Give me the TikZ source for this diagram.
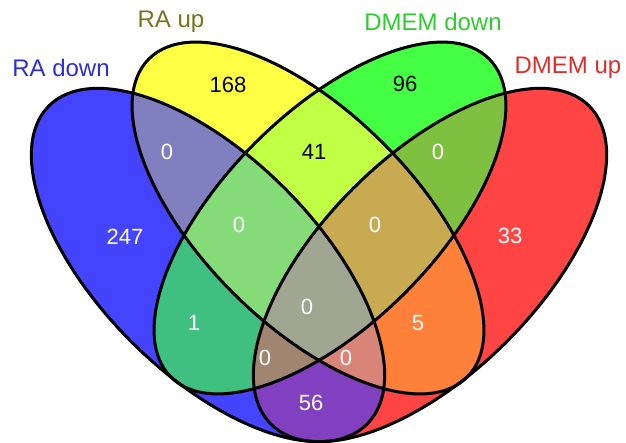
\documentclass[tikz,border=0pt]{standalone}
\usepackage{fontspec}
\setmainfont{Liberation Sans}
\definecolor{cA}{HTML}{4444FF}
\definecolor{cB}{HTML}{FFFF44}
\definecolor{cC}{HTML}{44FF44}
\definecolor{cD}{HTML}{FF4444}
\definecolor{cAB}{HTML}{8080C0}
\definecolor{cAC}{HTML}{40C080}
\definecolor{cAD}{HTML}{8040C0}
\definecolor{cBC}{HTML}{C0FF44}
\definecolor{cBD}{HTML}{FF8038}
\definecolor{cCD}{HTML}{80C040}
\definecolor{cABC}{HTML}{84DB78}
\definecolor{cABD}{HTML}{D88478}
\definecolor{cACD}{HTML}{A08570}
\definecolor{cBCD}{HTML}{C8AA50}
\definecolor{cABCD}{HTML}{A0A692}
\definecolor{tA}{HTML}{2E2EDD}
\definecolor{tB}{HTML}{75751E}
\definecolor{tC}{HTML}{2ECC2E}
\definecolor{tD}{HTML}{DD2E2E}
% ellipse paths (canvas coordinates, y up; image y -> -y)
\newcommand\pA{\pgfpathellipse{\pgfpoint{208pt}{-265pt}}{\pgfpoint{159.1pt}{-159.1pt}}{\pgfpoint{76.7pt}{76.7pt}}}
\newcommand\pB{\pgfpathellipse{\pgfpoint{308pt}{-218pt}}{\pgfpoint{159.1pt}{-159.1pt}}{\pgfpoint{74.95pt}{74.95pt}}}
\newcommand\pC{\pgfpathellipse{\pgfpoint{330pt}{-218pt}}{\pgfpoint{-159.1pt}{-159.1pt}}{\pgfpoint{74.95pt}{-74.95pt}}}
\newcommand\pD{\pgfpathellipse{\pgfpoint{430pt}{-265pt}}{\pgfpoint{-159.1pt}{-159.1pt}}{\pgfpoint{76.7pt}{-76.7pt}}}
\newcommand\vcl[1]{#1\pgfusepath{clip}}
\newcommand\rgn[2]{\begin{scope}#1\fill[#2] (0,0) rectangle (626,442);\end{scope}}
\tikzset{
  setlab/.style={font=\fontsize{24}{28}\selectfont, inner sep=0pt},
  num/.style={font=\fontsize{22}{26}\selectfont, inner sep=0pt, text=white},
  numk/.style={num, text=black}
}
\begin{document}
\begin{tikzpicture}[x=1pt,y=-1pt]
\useasboundingbox (0,0) rectangle (626,442);
\fill[white] (0,0) rectangle (626,442);
% single sets
\rgn{\vcl\pA}{cA}
\rgn{\vcl\pB}{cB}
\rgn{\vcl\pC}{cC}
\rgn{\vcl\pD}{cD}
% pairs
\rgn{\vcl\pA\vcl\pB}{cAB}
\rgn{\vcl\pA\vcl\pC}{cAC}
\rgn{\vcl\pA\vcl\pD}{cAD}
\rgn{\vcl\pB\vcl\pC}{cBC}
\rgn{\vcl\pB\vcl\pD}{cBD}
\rgn{\vcl\pC\vcl\pD}{cCD}
% triples
\rgn{\vcl\pA\vcl\pB\vcl\pC}{cABC}
\rgn{\vcl\pA\vcl\pB\vcl\pD}{cABD}
\rgn{\vcl\pA\vcl\pC\vcl\pD}{cACD}
\rgn{\vcl\pB\vcl\pC\vcl\pD}{cBCD}
% all four
\rgn{\vcl\pA\vcl\pB\vcl\pC\vcl\pD}{cABCD}
% outlines
\begin{scope}
\pgfsetlinewidth{3pt}
\pgfsetstrokecolor{black}
\pA\pgfusepath{stroke}
\pB\pgfusepath{stroke}
\pC\pgfusepath{stroke}
\pD\pgfusepath{stroke}
\end{scope}
% set labels
\node[setlab, text=tA] (lA) at (61,68) {RA down};
\node[setlab, text=tB] (lB) at (171,22) {RA up};
\node[setlab, text=tC] (lC) at (433,22) {DMEM down};
\node[setlab, text=tD] (lD) at (568,68) {DMEM up};
% counts
\node[numk] (n168) at (228,85) {168};
\node[numk] (n96) at (405,84) {96};
\node[numk] (n41) at (314,152) {41};
\node[num] (nAB) at (167,152) {0};
\node[num] (nCD) at (438,152) {0};
\node[num] (n247) at (125,237) {247};
\node[num] (n33) at (510,236) {33};
\node[num] (nABC) at (239,225) {0};
\node[num] (nBCD) at (375,225) {0};
\node[num] (n1) at (194,323) {1};
\node[num] (n5) at (418,323) {5};
\node[num] (nABCD) at (307,307) {0};
\node[num] (nACD) at (265,358) {0};
\node[num] (nABD) at (346,358) {0};
\node[num] (n56) at (311,403) {56};
\end{tikzpicture}
\end{document}
